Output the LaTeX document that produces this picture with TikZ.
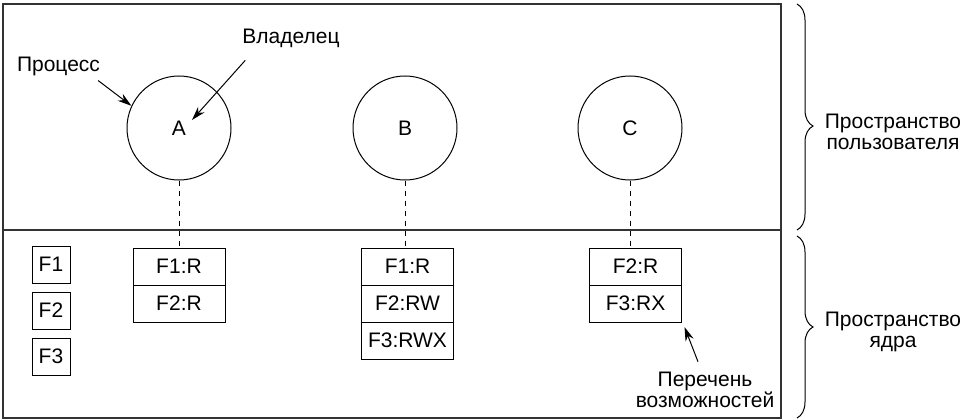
\documentclass[tikz,border=0pt]{standalone}
\usepackage{fontspec}
\setmainfont{Liberation Sans}
\usetikzlibrary{arrows.meta,positioning,decorations.pathreplacing}

\begin{document}
\begin{tikzpicture}[x=1pt,y=-1pt,>={Stealth[length=14pt,width=8.5pt]},
  font=\fontsize{21}{21.5}\selectfont,
  proc/.style={circle,draw,line width=1pt,minimum size=104pt,inner sep=0pt},
  cell/.style={draw,line width=1pt,minimum width=92pt,minimum height=37pt,inner sep=0pt,outer sep=0pt},
  fbox/.style={draw,line width=1pt,minimum width=38pt,minimum height=37pt,inner sep=0pt},
  link/.style={dash pattern=on 5pt off 5pt,line width=1pt},
  note/.style={->,line width=1pt},
  lbl/.style={inner sep=2pt,align=center},
  side/.style={decorate,decoration={brace,amplitude=16pt,aspect=#1},line width=1pt}]
  \useasboundingbox (0,0) rectangle (964,420);
  % frame: user space over kernel space
  \draw[line width=1.3pt,black!80] (3,4) rectangle (781,418);
  \draw[line width=1.3pt,black!80] (3,230) -- (781,230);

  % processes
  \node[proc] (A) at (179,128) {A};
  \node[proc] (B) at (405,128) {B};
  \node[proc] (C) at (630,128) {C};

  % files
  \node[fbox] (f1) at (51,264.5) {F1};
  \node[fbox,below=8pt of f1] (f2) {F2};
  \node[fbox,below=8pt of f2] (f3) {F3};

  % capability lists
  \node[cell] (a1) at (179,266.5) {F1:R};
  \node[cell,below=0pt of a1] (a2) {F2:R};
  \node[cell] (b1) at (407.5,266.5) {F1:R};
  \node[cell,below=0pt of b1] (b2) {F2:RW};
  \node[cell,below=0pt of b2] (b3) {F3:RWX};
  \node[cell] (c1) at (635.5,266.5) {F2:R};
  \node[cell,below=0pt of c1] (c2) {F3:RX};

  \draw[link] (A.south) -- (A.south |- a1.north);
  \draw[link] (B.south) -- (B.south |- b1.north);
  \draw[link] (C.south) -- (C.south |- c1.north);

  % labels
  \node[lbl,anchor=base] (lproc) at (58.5,72) {Процесс};
  \node[lbl,anchor=base] (lown) at (291,44) {Владелец};
  \node[lbl] (lcap) at (705,390) {Перечень\\возможностей};
  \draw[note] ([shift={(-4pt,-2pt)}]lproc.south east) -- (A.155);
  \draw[note] ([shift={(5pt,-10pt)}]lown.south west) -- ([shift={(13pt,8pt)}]A.center);
  \draw[note] ([shift={(-7pt,8pt)}]lcap.north) -- ([shift={(3pt,-5pt)}]c2.south east);

  % braces
  \draw[side=0.54] (797,4) -- (797,230);
  \draw[side=0.5] (797,236) -- (797,418);
  \node[lbl] (luser) at (893,132) {Пространство\\пользователя};
  \node[lbl] (lkern) at (893,332) {Пространство\\ядра};
\end{tikzpicture}
\end{document}
